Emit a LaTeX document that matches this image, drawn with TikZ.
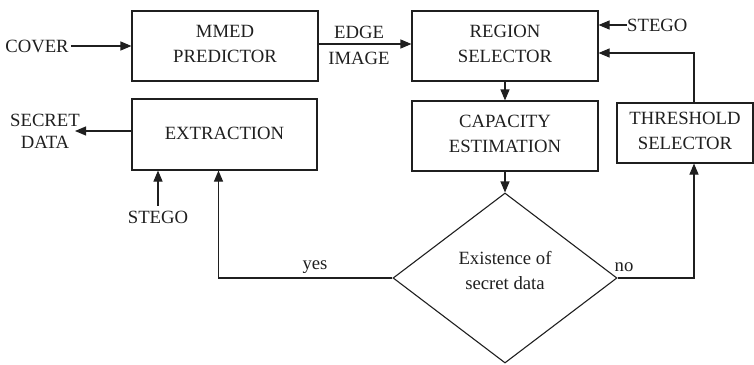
\documentclass[tikz,border=0pt]{standalone}
\usepackage{fontspec}
\setmainfont{Liberation Serif}
\usetikzlibrary{arrows.meta,shapes.geometric,calc}
\begin{document}
\begin{tikzpicture}[x=1pt,y=-1pt,
  every node/.style={font=\fontsize{18.7}{25}\selectfont, align=center, text=black!88},
  blk/.style={draw=black!88, line width=1.1pt, minimum width=186pt, minimum height=70pt, inner sep=0pt, text depth=4pt},
  lbl/.style={inner sep=0pt},
  conn/.style={draw=black!88, line width=1.1pt, -{Triangle[length=11pt,width=9pt]}},
  ]
\useasboundingbox (0,0) rectangle (754,364);
% boxes
\node[blk] (mmed) at (225,46) {MMED\\PREDICTOR};
\node[blk] (region) at (505,46) {REGION\\SELECTOR};
\node[blk, minimum width=185pt, minimum height=71pt, text depth=2pt] (extr) at (224.5,134.5) {EXTRACTION};
\node[blk] (cap) at (505,136) {CAPACITY\\ESTIMATION};
\node[blk, minimum width=136pt, minimum height=60pt] (thr) at (685,133) {THRESHOLD\\SELECTOR};
\node[draw=black!88, line width=1.1pt, diamond, aspect=1.32, minimum width=224pt, minimum height=170pt, inner sep=0pt,
  text depth=16pt] (dia) at (505,278) {Existence of\\secret data};
% labels
\node[lbl] (cover) at (37,46) {COVER};
\node[lbl, font=\fontsize{18.7}{26}\selectfont] (edge) at (359,45) {EDGE\\IMAGE};
\node[lbl, font=\fontsize{18.7}{22}\selectfont] (secret) at (45,131) {SECRET\\DATA};
\node[lbl] (stegob) at (158,217) {STEGO};
\node[lbl, anchor=west] (stegor) at (627,25) {STEGO};
\node[lbl] (yes) at (315,267) {yes};
\node[lbl] (no) at (624,267) {no};
% connectors
\draw[conn] ([xshift=2pt]cover.east) -- (mmed.west |- cover.east);
\draw[conn] ([yshift=2pt]mmed.east) -- ([yshift=2pt]region.west);
\draw[conn] (stegor.west) -- (stegor.west -| region.east);
\draw[conn] (region.south) -- (cap.north);
\draw[conn] (cap.south) -- (dia.north);
\draw[conn] (extr.west |- secret.east) -- ([xshift=-5pt]secret.east);
\draw[conn] ([yshift=5pt]stegob.north) -- (stegob.north |- extr.south);
\draw[conn] (dia.west) -| ([xshift=-6pt]extr.south);
\draw[conn] (dia.east) -| ([xshift=9pt]thr.south);
\draw[conn] ([xshift=9pt]thr.north) |- ([yshift=-7pt]region.east);
\end{tikzpicture}
\end{document}
